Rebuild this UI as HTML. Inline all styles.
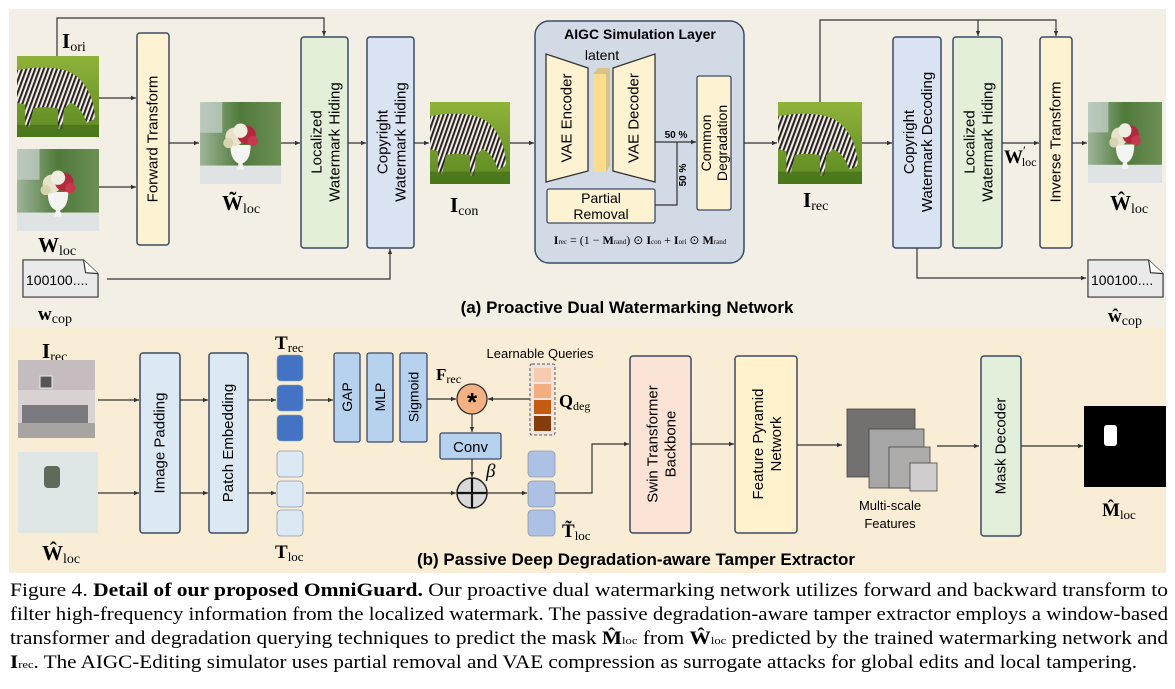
<!DOCTYPE html>
<html><head><meta charset="utf-8"><style>
html,body{margin:0;padding:0;background:#fff}
svg{display:block}
.s{font-family:"Liberation Sans",sans-serif}
.r{font-family:"Liberation Serif",serif}
</style></head><body>
<svg width="1175" height="689" viewBox="0 0 1175 689" xmlns="http://www.w3.org/2000/svg">
<defs>
<marker id="a" markerWidth="6" markerHeight="6" refX="5" refY="3" orient="auto" markerUnits="userSpaceOnUse"><path d="M0,0.8 L5,3 L0,5.2z" fill="#333"/></marker>
<pattern id="st" width="4" height="4" patternUnits="userSpaceOnUse" patternTransform="rotate(20)"><rect width="4" height="4" fill="#f2eee8"/><rect width="2" height="4" fill="#2a2220"/></pattern>
<linearGradient id="gr" x1="0" y1="0" x2="0" y2="1"><stop offset="0" stop-color="#8fb23a"/><stop offset="1" stop-color="#5c8a22"/></linearGradient>
<linearGradient id="fb" x1="0" y1="0" x2="1" y2="0"><stop offset="0" stop-color="#9fb59a"/><stop offset=".5" stop-color="#4f7a3a"/><stop offset="1" stop-color="#6d8f55"/></linearGradient>
<symbol id="zeb" viewBox="0 0 80 80" preserveAspectRatio="none">
<rect width="80" height="80" fill="url(#gr)"/>
<path d="M0,14 C20,10 46,10 58,20 C68,28 76,44 76,62 L68,66 C64,54 58,48 52,46 L46,52 L44,72 L40,72 L40,52 C30,50 22,50 16,52 L12,70 L8,70 L8,48 L0,46z" fill="url(#st)"/>
<rect y="68" width="80" height="12" fill="#3f6a18" opacity=".6"/>
</symbol>
<symbol id="flo" viewBox="0 0 80 80" preserveAspectRatio="none">
<rect width="80" height="80" fill="url(#fb)"/>
<rect y="0" width="22" height="30" fill="#c9d3cf" opacity=".7"/>
<rect y="62" width="80" height="18" fill="#dfe3e3"/>
<path d="M30,42 L50,42 C50,54 46,58 42,60 L44,66 L36,66 L38,60 C34,58 30,54 30,42z" fill="#f4f4f2"/>
<circle cx="34" cy="34" r="9" fill="#e8e2c8"/><circle cx="46" cy="32" r="9" fill="#b3283d"/><circle cx="40" cy="28" r="7" fill="#f0eee0"/><circle cx="52" cy="38" r="5" fill="#c83850"/><circle cx="28" cy="40" r="5" fill="#d9d4b0"/>
</symbol>
<symbol id="doc" viewBox="0 0 80 40" preserveAspectRatio="none">
<path d="M1,1 L64,1 L79,15 L79,39 L1,39z" fill="#eaeaea" stroke="#333" stroke-width="1.2"/>
<path d="M64,1 L66,14 L79,15" fill="#fff" stroke="#333" stroke-width="1.2"/>
</symbol>
</defs>

<rect x="9" y="9" width="1157" height="318" fill="#f3efe5"/>
<rect x="9" y="327" width="1157" height="246" fill="#f9edd6"/>

<!-- ===== TOP ===== -->
<use href="#zeb" x="17" y="56" width="82" height="81"/>
<use href="#flo" x="17" y="149" width="82" height="82"/>
<text x="62" y="48" class="r" font-size="21" font-weight="bold">I<tspan font-size="14" font-weight="normal" dy="3">ori</tspan></text>
<text x="38" y="252" class="r" font-size="21" font-weight="bold">W<tspan font-size="14" font-weight="normal" dy="3">loc</tspan></text>
<path d="M57,56 V18 H324 V36" fill="none" stroke="#333" stroke-width="1.2" marker-end="url(#a)"/>
<line x1="99" y1="98" x2="136" y2="98" stroke="#333" stroke-width="1.2" marker-end="url(#a)"/>
<line x1="99" y1="187" x2="136" y2="187" stroke="#333" stroke-width="1.2" marker-end="url(#a)"/>
<rect x="137" y="33" width="32" height="212" rx="3" fill="#fdf2d2" stroke="#3b4a66" stroke-width="1.5"/>
<text transform="translate(153,139) rotate(-90)" text-anchor="middle" dominant-baseline="central" class="s" font-size="15">Forward Transform</text>
<line x1="169" y1="143" x2="199" y2="143" stroke="#333" stroke-width="1.2" marker-end="url(#a)"/>
<use href="#flo" x="200" y="102" width="81" height="82"/>
<text x="222" y="210" class="r" font-size="21" font-weight="bold">W̃<tspan font-size="14" font-weight="normal" dy="3">loc</tspan></text>
<line x1="281" y1="143" x2="300" y2="143" stroke="#333" stroke-width="1.2" marker-end="url(#a)"/>
<rect x="301" y="37" width="47" height="211" rx="3" fill="#e3efd8" stroke="#3b4a66" stroke-width="1.5"/>
<text transform="translate(324.5,142) rotate(-90)" text-anchor="middle" class="s" font-size="15"><tspan x="0" dy="-3">Localized</tspan><tspan x="0" dy="18">Watermark Hiding</tspan></text>
<line x1="348" y1="143" x2="366" y2="143" stroke="#333" stroke-width="1.2" marker-end="url(#a)"/>
<rect x="367" y="37" width="47" height="211" rx="3" fill="#dae3f2" stroke="#3b4a66" stroke-width="1.5"/>
<text transform="translate(390.5,142) rotate(-90)" text-anchor="middle" class="s" font-size="15"><tspan x="0" dy="-3">Copyright</tspan><tspan x="0" dy="18">Watermark Hiding</tspan></text>
<line x1="414" y1="143" x2="429" y2="143" stroke="#333" stroke-width="1.2" marker-end="url(#a)"/>
<use href="#zeb" x="430" y="102" width="80" height="82"/>
<text x="450" y="212" class="r" font-size="21" font-weight="bold">I<tspan font-size="14" font-weight="normal" dy="3">con</tspan></text>
<use href="#doc" x="22" y="259" width="77" height="39"/>
<text x="26" y="285" class="s" font-size="14">100100....</text>
<text x="38" y="320" class="r" font-size="19" font-weight="bold">w<tspan font-size="14" font-weight="normal" dy="3">cop</tspan></text>
<path d="M107,279 H390 V249" fill="none" stroke="#333" stroke-width="1.2" marker-end="url(#a)"/>
<line x1="510" y1="143" x2="534" y2="143" stroke="#333" stroke-width="1.2" marker-end="url(#a)"/>

<rect x="535" y="21" width="209" height="242" rx="14" fill="#d2dae6" stroke="#3b4a66" stroke-width="1.5"/>
<text x="640" y="39" text-anchor="middle" class="s" font-size="14" font-weight="bold">AIGC Simulation Layer</text>
<text x="602" y="60" text-anchor="middle" class="s" font-size="14">latent</text>
<polygon points="546,54 588,68 588,171 546,182" fill="#fdf2d2" stroke="#333" stroke-width="1.3"/>
<text transform="translate(567,118) rotate(-90)" text-anchor="middle" dominant-baseline="central" class="s" font-size="15">VAE Encoder</text>
<polygon points="593,74 598,68 610,68 610,166 606,172 593,172" fill="#d7c38a"/>
<rect x="593" y="74" width="13" height="98" fill="#fbdc8c"/>
<polygon points="613,68 655,54 655,182 613,171" fill="#fdf2d2" stroke="#333" stroke-width="1.3"/>
<text transform="translate(634,118) rotate(-90)" text-anchor="middle" dominant-baseline="central" class="s" font-size="15">VAE Decoder</text>
<rect x="547" y="189" width="108" height="34" rx="2" fill="#fdf2d2" stroke="#3b4a66" stroke-width="1.3"/>
<text x="601" y="203" text-anchor="middle" class="s" font-size="14">Partial</text>
<text x="601" y="219" text-anchor="middle" class="s" font-size="14">Removal</text>
<line x1="655" y1="142" x2="696" y2="142" stroke="#333" stroke-width="1.2" marker-end="url(#a)"/>
<path d="M655,205 H677 V142" fill="none" stroke="#333" stroke-width="1.2"/>
<text x="676" y="138" text-anchor="middle" class="s" font-size="10" font-weight="bold">50 %</text>
<text transform="translate(686,175) rotate(-90)" text-anchor="middle" class="s" font-size="10" font-weight="bold">50 %</text>
<rect x="697" y="76" width="34" height="134" rx="2" fill="#fdf2d2" stroke="#3b4a66" stroke-width="1.3"/>
<text transform="translate(714,143) rotate(-90)" text-anchor="middle" class="s" font-size="14"><tspan x="0" dy="-3">Common</tspan><tspan x="0" dy="16">Degradation</tspan></text>
<text x="640" y="244" text-anchor="middle" class="r" font-size="12"><tspan font-weight="bold">I</tspan><tspan font-size="7">rec</tspan> = (1 − <tspan font-weight="bold">M</tspan><tspan font-size="7">rand</tspan>) ⊙ <tspan font-weight="bold">I</tspan><tspan font-size="7">con</tspan> + <tspan font-weight="bold">I</tspan><tspan font-size="7">ori</tspan> ⊙ <tspan font-weight="bold">M</tspan><tspan font-size="7">rand</tspan></text>
<line x1="744" y1="143" x2="777" y2="143" stroke="#333" stroke-width="1.2" marker-end="url(#a)"/>
<use href="#zeb" x="778" y="102" width="84" height="82"/>
<text x="803" y="207" class="r" font-size="21" font-weight="bold">I<tspan font-size="14" font-weight="normal" dy="3">rec</tspan></text>
<path d="M820,102 V20 H1056 V36" fill="none" stroke="#333" stroke-width="1.2" marker-end="url(#a)"/>
<line x1="978" y1="20" x2="978" y2="36" stroke="#333" stroke-width="1.2" marker-end="url(#a)"/>
<line x1="862" y1="143" x2="892" y2="143" stroke="#333" stroke-width="1.2" marker-end="url(#a)"/>
<rect x="893" y="37" width="48" height="211" rx="3" fill="#dae3f2" stroke="#3b4a66" stroke-width="1.5"/>
<text transform="translate(917,142) rotate(-90)" text-anchor="middle" class="s" font-size="15"><tspan x="0" dy="-3">Copyright</tspan><tspan x="0" dy="18">Watermark Decoding</tspan></text>
<rect x="953" y="37" width="49" height="211" rx="3" fill="#e3efd8" stroke="#3b4a66" stroke-width="1.5"/>
<text transform="translate(977.5,142) rotate(-90)" text-anchor="middle" class="s" font-size="15"><tspan x="0" dy="-3">Localized</tspan><tspan x="0" dy="18">Watermark Hiding</tspan></text>
<line x1="1002" y1="143" x2="1039" y2="143" stroke="#333" stroke-width="1.2" marker-end="url(#a)"/>
<text x="1004" y="163" class="r" font-size="19" font-weight="bold">W<tspan font-size="13" font-weight="normal" dy="-8">′</tspan><tspan font-size="12" font-weight="normal" dy="11" dx="-4">loc</tspan></text>
<rect x="1040" y="37" width="32" height="211" rx="3" fill="#fdf2d2" stroke="#3b4a66" stroke-width="1.5"/>
<text transform="translate(1056,142) rotate(-90)" text-anchor="middle" dominant-baseline="central" class="s" font-size="15">Inverse Transform</text>
<line x1="1072" y1="143" x2="1087" y2="143" stroke="#333" stroke-width="1.2" marker-end="url(#a)"/>
<use href="#flo" x="1088" y="102" width="74" height="81"/>
<text x="1110" y="210" class="r" font-size="21" font-weight="bold">Ŵ<tspan font-size="14" font-weight="normal" dy="3">loc</tspan></text>
<path d="M917,248 V278 H1086" fill="none" stroke="#333" stroke-width="1.2" marker-end="url(#a)"/>
<use href="#doc" x="1087" y="259" width="77" height="39"/>
<text x="1091" y="285" class="s" font-size="14">100100....</text>
<text x="1108" y="322" class="r" font-size="19" font-weight="bold">ŵ<tspan font-size="14" font-weight="normal" dy="3">cop</tspan></text>
<text x="627" y="313" text-anchor="middle" class="s" font-size="17" font-weight="bold">(a) Proactive Dual Watermarking Network</text>

<!-- ===== BOTTOM ===== -->
<text x="42" y="358" class="r" font-size="21" font-weight="bold">I<tspan font-size="14" font-weight="normal" dy="3">rec</tspan></text>
<rect x="18" y="360" width="77" height="78" fill="#d8d2d2"/>
<rect x="18" y="360" width="77" height="30" fill="#c4bcbe"/>
<rect x="40" y="376" width="12" height="12" fill="#555" stroke="#eee"/>
<rect x="22" y="405" width="66" height="18" fill="#7a7a7e"/>
<rect x="18" y="423" width="77" height="15" fill="#a8a4a2"/>
<rect x="18" y="452" width="80" height="81" fill="#dfe6e6"/>
<rect x="44" y="466" width="16" height="22" rx="4" fill="#5f6b5a"/>
<text x="42" y="560" class="r" font-size="21" font-weight="bold">Ŵ<tspan font-size="14" font-weight="normal" dy="3">loc</tspan></text>
<line x1="98" y1="400" x2="139" y2="400" stroke="#333" stroke-width="1.2" marker-end="url(#a)"/>
<line x1="98" y1="493" x2="139" y2="493" stroke="#333" stroke-width="1.2" marker-end="url(#a)"/>
<rect x="140" y="353" width="40" height="180" rx="3" fill="#dde8f5" stroke="#3b4a66" stroke-width="1.5"/>
<text transform="translate(160,443) rotate(-90)" text-anchor="middle" dominant-baseline="central" class="s" font-size="15">Image Padding</text>
<line x1="180" y1="400" x2="208" y2="400" stroke="#333" stroke-width="1.2" marker-end="url(#a)"/>
<line x1="180" y1="493" x2="208" y2="493" stroke="#333" stroke-width="1.2" marker-end="url(#a)"/>
<rect x="209" y="353" width="39" height="180" rx="3" fill="#dde8f5" stroke="#3b4a66" stroke-width="1.5"/>
<text transform="translate(228.5,443) rotate(-90)" text-anchor="middle" dominant-baseline="central" class="s" font-size="15">Patch Embedding</text>
<line x1="248" y1="400" x2="276" y2="400" stroke="#333" stroke-width="1.2" marker-end="url(#a)"/>
<line x1="248" y1="493" x2="276" y2="493" stroke="#333" stroke-width="1.2" marker-end="url(#a)"/>
<text x="275" y="349" class="r" font-size="19" font-weight="bold">T<tspan font-size="13" font-weight="normal" dy="3">rec</tspan></text>
<rect x="277" y="355" width="26" height="26" rx="4" fill="#4472c4" stroke="#8aa" stroke-width=".6"/>
<rect x="277" y="385" width="26" height="26" rx="4" fill="#4472c4" stroke="#8aa" stroke-width=".6"/>
<rect x="277" y="415" width="26" height="26" rx="4" fill="#4472c4" stroke="#8aa" stroke-width=".6"/>
<rect x="277" y="451" width="26" height="26" rx="4" fill="#dde8f5" stroke="#8a99aa" stroke-width=".8"/>
<rect x="277" y="481" width="26" height="26" rx="4" fill="#dde8f5" stroke="#8a99aa" stroke-width=".8"/>
<rect x="277" y="510" width="26" height="26" rx="4" fill="#dde8f5" stroke="#8a99aa" stroke-width=".8"/>
<text x="275" y="558" class="r" font-size="19" font-weight="bold">T<tspan font-size="13" font-weight="normal" dy="3">loc</tspan></text>
<line x1="306" y1="400" x2="333" y2="400" stroke="#333" stroke-width="1.2" marker-end="url(#a)"/>
<rect x="334" y="353" width="26" height="89" rx="2" fill="#b7d2ee" stroke="#3b4a66" stroke-width="1.3"/>
<text transform="translate(347,397) rotate(-90)" text-anchor="middle" dominant-baseline="central" class="s" font-size="14">GAP</text>
<rect x="367" y="353" width="26" height="89" rx="2" fill="#b7d2ee" stroke="#3b4a66" stroke-width="1.3"/>
<text transform="translate(380,397) rotate(-90)" text-anchor="middle" dominant-baseline="central" class="s" font-size="14">MLP</text>
<rect x="400" y="353" width="27" height="89" rx="2" fill="#b7d2ee" stroke="#3b4a66" stroke-width="1.3"/>
<text transform="translate(413.5,397) rotate(-90)" text-anchor="middle" dominant-baseline="central" class="s" font-size="14">Sigmoid</text>
<line x1="427" y1="399" x2="456" y2="399" stroke="#333" stroke-width="1.2" marker-end="url(#a)"/>
<text x="436" y="380" class="r" font-size="17" font-weight="bold">F<tspan font-size="12" font-weight="normal" dy="3">rec</tspan></text>
<circle cx="472" cy="399" r="15" fill="#f4b183" stroke="#333" stroke-width="1.3"/>
<text x="472" y="411" text-anchor="middle" class="s" font-size="26" font-weight="bold">*</text>
<line x1="530" y1="399" x2="488" y2="399" stroke="#333" stroke-width="1.2" marker-end="url(#a)"/>
<text x="540" y="358" text-anchor="middle" class="s" font-size="13">Learnable Queries</text>
<rect x="530" y="364" width="25" height="71" rx="2" fill="#f0e4dc" stroke="#556" stroke-width="1" stroke-dasharray="3,2"/>
<rect x="534" y="368" width="17" height="14" fill="#f7cbb0"/>
<rect x="534" y="384" width="17" height="14" fill="#f2ae7f"/>
<rect x="534" y="400" width="17" height="14" fill="#c55a11"/>
<rect x="534" y="416" width="17" height="15" fill="#843c0c"/>
<text x="559" y="407" class="r" font-size="18" font-weight="bold">Q<tspan font-size="12" font-weight="normal" dy="3">deg</tspan></text>
<line x1="472" y1="414" x2="472" y2="432" stroke="#333" stroke-width="1.2" marker-end="url(#a)"/>
<rect x="440" y="433" width="61" height="26" rx="2" fill="#b7d2ee" stroke="#3b4a66" stroke-width="1.3"/>
<text x="470.5" y="452" text-anchor="middle" class="s" font-size="15">Conv</text>
<line x1="472" y1="459" x2="472" y2="477" stroke="#333" stroke-width="1.2" marker-end="url(#a)"/>
<line x1="306" y1="493" x2="456" y2="493" stroke="#333" stroke-width="1.2" marker-end="url(#a)"/>
<circle cx="472" cy="493" r="15" fill="#d9d9d9" stroke="#222" stroke-width="1.5"/>
<line x1="457" y1="493" x2="487" y2="493" stroke="#111" stroke-width="2.2"/>
<line x1="472" y1="478" x2="472" y2="508" stroke="#111" stroke-width="2.2"/>
<text x="486" y="477" class="r" font-size="19" font-style="italic">β</text>
<line x1="487" y1="493" x2="527" y2="493" stroke="#333" stroke-width="1.2" marker-end="url(#a)"/>
<rect x="528" y="451" width="27" height="26" rx="4" fill="#adc1e4" stroke="#8a99aa" stroke-width=".8"/>
<rect x="528" y="481" width="27" height="26" rx="4" fill="#adc1e4" stroke="#8a99aa" stroke-width=".8"/>
<rect x="528" y="510" width="27" height="26" rx="4" fill="#adc1e4" stroke="#8a99aa" stroke-width=".8"/>
<text x="562" y="537" class="r" font-size="19" font-weight="bold">T̃<tspan font-size="13" font-weight="normal" dy="3">loc</tspan></text>
<path d="M555,493 H592 V444 H629" fill="none" stroke="#333" stroke-width="1.2" marker-end="url(#a)"/>
<rect x="630" y="356" width="61" height="177" rx="3" fill="#fbe4d6" stroke="#3b4a66" stroke-width="1.5"/>
<text transform="translate(660.5,444) rotate(-90)" text-anchor="middle" class="s" font-size="15"><tspan x="0" dy="-3">Swin Transformer</tspan><tspan x="0" dy="18">Backbone</tspan></text>
<line x1="691" y1="444" x2="734" y2="444" stroke="#333" stroke-width="1.2" marker-end="url(#a)"/>
<rect x="735" y="356" width="62" height="177" rx="3" fill="#fff2cc" stroke="#3b4a66" stroke-width="1.5"/>
<text transform="translate(766,444) rotate(-90)" text-anchor="middle" class="s" font-size="15"><tspan x="0" dy="-3">Feature Pyramid</tspan><tspan x="0" dy="18">Network</tspan></text>
<line x1="797" y1="445" x2="842" y2="445" stroke="#333" stroke-width="1.2" marker-end="url(#a)"/>
<rect x="847" y="409" width="68" height="68" fill="#737070" stroke="#444" stroke-width=".8"/>
<rect x="869" y="429" width="55" height="59" fill="#a6a6a6" stroke="#444" stroke-width=".8"/>
<rect x="889" y="447" width="41" height="41" fill="#afabab" stroke="#444" stroke-width=".8"/>
<rect x="910" y="463" width="27" height="28" fill="#d0cece" stroke="#444" stroke-width=".8"/>
<text x="890" y="510" text-anchor="middle" class="s" font-size="13">Multi-scale</text>
<text x="890" y="528" text-anchor="middle" class="s" font-size="13">Features</text>
<line x1="937" y1="446" x2="979" y2="446" stroke="#333" stroke-width="1.2" marker-end="url(#a)"/>
<rect x="981" y="356" width="40" height="180" rx="3" fill="#e2efda" stroke="#3b4a66" stroke-width="1.5"/>
<text transform="translate(1001,446) rotate(-90)" text-anchor="middle" dominant-baseline="central" class="s" font-size="15">Mask Decoder</text>
<line x1="1021" y1="446" x2="1083" y2="446" stroke="#333" stroke-width="1.2" marker-end="url(#a)"/>
<rect x="1084" y="406" width="82" height="81" fill="#000"/>
<rect x="1104" y="425" width="13" height="21" rx="3" fill="#fff"/>
<text x="1102" y="516" class="r" font-size="19" font-weight="bold">M̂<tspan font-size="13" font-weight="normal" dy="3">loc</tspan></text>
<text x="636" y="565" text-anchor="middle" class="s" font-size="17" font-weight="bold">(b) Passive Deep Degradation-aware Tamper Extractor</text>

<!-- caption -->
<g class="r" font-size="18.5">
<text x="10" y="596" textLength="1158" lengthAdjust="spacingAndGlyphs">Figure 4. <tspan font-weight="bold">Detail of our proposed OmniGuard.</tspan> Our proactive dual watermarking network utilizes forward and backward transform to</text>
<text x="10" y="620" textLength="1158" lengthAdjust="spacingAndGlyphs">filter high-frequency information from the localized watermark. The passive degradation-aware tamper extractor employs a window-based</text>
<text x="10" y="644" textLength="1158" lengthAdjust="spacingAndGlyphs">transformer and degradation querying techniques to predict the mask <tspan font-weight="bold">M̂</tspan><tspan font-size="11">loc</tspan> from <tspan font-weight="bold">Ŵ</tspan><tspan font-size="11">loc</tspan> predicted by the trained watermarking network and</text>
<text x="10" y="668" textLength="1127" lengthAdjust="spacingAndGlyphs"><tspan font-weight="bold">I</tspan><tspan font-size="11">rec</tspan>. The AIGC-Editing simulator uses partial removal and VAE compression as surrogate attacks for global edits and local tampering.</text>
</g>
</svg>
</body></html>
